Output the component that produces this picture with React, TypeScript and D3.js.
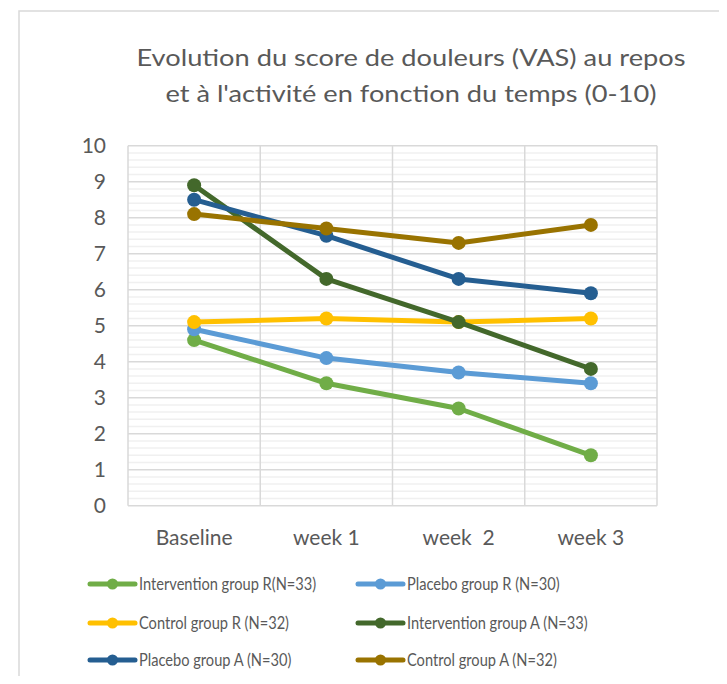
import { useEffect, useRef } from "react";
import * as d3 from "d3";

const categories = ["Baseline", "week 1", "week  2", "week 3"];
const yTicks = [0, 1, 2, 3, 4, 5, 6, 7, 8, 9, 10];

const seriesNames = [
  "Intervention group R(N=33)",
  "Placebo group R (N=30)",
  "Control group R (N=32)",
  "Intervention group A (N=33)",
  "Placebo group A (N=30)",
  "Control group A (N=32)",
];
const seriesColors = ["#70AD47", "#5B9BD5", "#FFC000", "#43682B", "#255E91", "#997300"];

const interventionR = [4.6, 3.4, 2.7, 1.4];
const placeboR = [4.9, 4.1, 3.7, 3.4];
const controlR = [5.1, 5.2, 5.1, 5.2];
const interventionA = [8.9, 6.3, 5.1, 3.8];
const placeboA = [8.5, 7.5, 6.3, 5.9];
const controlA = [8.1, 7.7, 7.3, 7.8];

const seriesValues = [interventionR, placeboR, controlR, interventionA, placeboA, controlA];

const FONT = "Lato, 'Open Sans', sans-serif";
const TEXT = "#595959";

const App = () => {
  const svgRef = useRef<SVGSVGElement>(null);

  useEffect(() => {
    const svg = d3.select(svgRef.current);
    svg.selectAll("*").remove();

    const width = 727;
    const height = 684;
    const plot = { left: 128, right: 657, top: 145.7, bottom: 505.7 };

    // chart area border (runs off the right and bottom of the picture)
    svg
      .append("rect")
      .attr("x", 19)
      .attr("y", 11)
      .attr("width", width + 50)
      .attr("height", height + 50)
      .attr("fill", "#fff")
      .attr("stroke", "#D9D9D9")
      .attr("stroke-width", 1.5);

    // title
    const title = svg
      .append("text")
      .attr("font-family", FONT)
      .attr("font-size", 24)
      .attr("fill", TEXT)
      .attr("text-anchor", "middle");
    title
      .append("tspan")
      .attr("x", 411)
      .attr("y", 66)
      .attr("textLength", 549)
      .attr("lengthAdjust", "spacingAndGlyphs")
      .text("Evolution du score de douleurs (VAS) au repos");
    title
      .append("tspan")
      .attr("x", 411)
      .attr("y", 102)
      .attr("textLength", 491)
      .attr("lengthAdjust", "spacingAndGlyphs")
      .text("et à l'activité en fonction du temps (0-10)");

    const x = d3.scaleBand().domain(categories).range([plot.left, plot.right]);
    const y = d3.scaleLinear().domain([0, 10]).range([plot.bottom, plot.top]);

    // minor gridlines
    const minor = d3.range(0, 10.001, 0.2).filter((v) => Math.abs(v - Math.round(v)) > 0.01);
    svg
      .append("g")
      .selectAll("line")
      .data(minor)
      .join("line")
      .attr("x1", plot.left)
      .attr("x2", plot.right)
      .attr("y1", (d) => y(d))
      .attr("y2", (d) => y(d))
      .attr("stroke", "#F0F0F0")
      .attr("stroke-width", 1.5);

    // major gridlines
    svg
      .append("g")
      .selectAll("line")
      .data(yTicks)
      .join("line")
      .attr("x1", plot.left)
      .attr("x2", plot.right)
      .attr("y1", (d) => y(d))
      .attr("y2", (d) => y(d))
      .attr("stroke", "#D9D9D9")
      .attr("stroke-width", 1.5);

    // vertical gridlines at category boundaries
    const bounds = categories.map((c) => x(c) as number).concat([plot.right]);
    svg
      .append("g")
      .selectAll("line")
      .data(bounds)
      .join("line")
      .attr("x1", (d) => d)
      .attr("x2", (d) => d)
      .attr("y1", plot.top)
      .attr("y2", plot.bottom)
      .attr("stroke", "#D9D9D9")
      .attr("stroke-width", 1.5);

    // y axis labels
    svg
      .append("g")
      .selectAll("text")
      .data(yTicks)
      .join("text")
      .attr("x", 106)
      .attr("y", (d) => y(d))
      .attr("dy", "0.35em")
      .attr("text-anchor", "end")
      .attr("font-family", FONT)
      .attr("font-size", 21)
      .attr("fill", TEXT)
      .text((d) => d);

    // category labels
    svg
      .append("g")
      .selectAll("text")
      .data(categories)
      .join("text")
      .attr("x", (d) => (x(d) as number) + x.bandwidth() / 2)
      .attr("y", 545)
      .attr("text-anchor", "middle")
      .attr("font-family", FONT)
      .attr("font-size", 21)
      .attr("fill", TEXT)
      .style("white-space", "pre")
      .text((d) => d);

    const cx = (i: number) => (x(categories[i]) as number) + x.bandwidth() / 2;
    const line = d3
      .line<number>()
      .x((_, i) => cx(i))
      .y((d) => y(d));

    seriesValues.forEach((vals, s) => {
      const g = svg.append("g");
      g.append("path")
        .datum(vals)
        .attr("fill", "none")
        .attr("stroke", seriesColors[s])
        .attr("stroke-width", 5)
        .attr("stroke-linejoin", "round")
        .attr("stroke-linecap", "round")
        .attr("d", line);
      g.selectAll("circle")
        .data(vals)
        .join("circle")
        .attr("cx", (_, i) => cx(i))
        .attr("cy", (d) => y(d))
        .attr("r", 7)
        .attr("fill", seriesColors[s]);
    });

    // legend
    const legendRows = [584, 623, 660];
    const legendCols = [90, 358];
    const legend = svg.append("g");
    seriesNames.forEach((name, i) => {
      const lx = legendCols[i % 2];
      const ly = legendRows[Math.floor(i / 2)];
      const item = legend.append("g");
      item
        .append("line")
        .attr("x1", lx)
        .attr("x2", lx + 45)
        .attr("y1", ly)
        .attr("y2", ly)
        .attr("stroke", seriesColors[i])
        .attr("stroke-width", 5)
        .attr("stroke-linecap", "round");
      item
        .append("circle")
        .attr("cx", lx + 22.5)
        .attr("cy", ly)
        .attr("r", 5.5)
        .attr("fill", seriesColors[i]);
      const t = item
        .append("text")
        .attr("x", lx + 49)
        .attr("y", ly)
        .attr("dy", "0.35em")
        .attr("font-family", FONT)
        .attr("font-size", 17)
        .attr("fill", TEXT)
        .text(name);
      // Calibri-like narrow set: squeeze the wider fallback font
      const node = t.node() as SVGTextElement;
      const w = node.getComputedTextLength();
      t.attr("textLength", w * 0.86).attr("lengthAdjust", "spacingAndGlyphs");
    });
  }, []);

  return (
    <div style={{ width: 727, height: 684, margin: -8, overflow: "hidden" }}>
      <svg ref={svgRef} width={727} height={684} style={{ display: "block" }} />
    </div>
  );
};

export default App;
